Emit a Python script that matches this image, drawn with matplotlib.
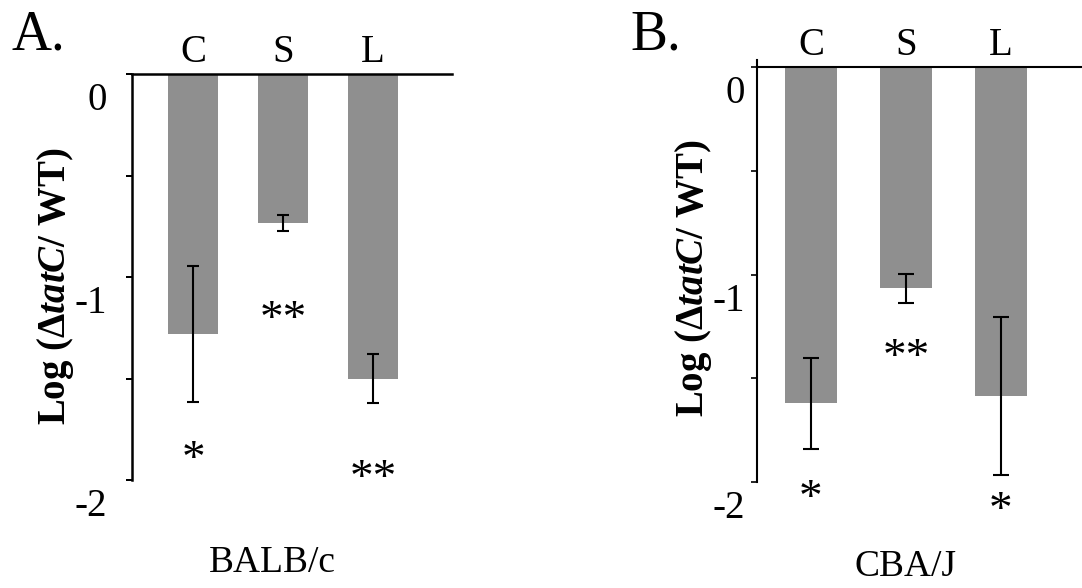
import matplotlib
matplotlib.use('Agg')
import matplotlib.pyplot as plt
from matplotlib.transforms import ScaledTranslation

plt.rcParams['font.family'] = 'Liberation Serif'
plt.rcParams['mathtext.fontset'] = 'custom'
plt.rcParams['mathtext.rm'] = 'Liberation Serif:bold'
plt.rcParams['mathtext.bf'] = 'Liberation Serif:bold'
plt.rcParams['mathtext.it'] = 'Liberation Serif:italic:bold'
plt.rcParams['mathtext.bfit'] = 'Liberation Serif:italic:bold'

groups = ['C', 'S', 'L']
ytick_vals = [0, -0.5, -1, -1.5, -2]
ytick_labels = ['0', '', '-1', '', '-2']

# panel A: BALB/c
balb_mean = [-1.28, -0.735, -1.50]
balb_err = [0.335, 0.04, 0.12]
balb_stars = ['*', '**', '**']
balb_star_y = [-1.85, -1.16, -1.94]

# panel B: CBA/J
cba_mean = [-1.62, -1.065, -1.585]
cba_err = [0.22, 0.07, 0.38]
cba_stars = ['*', '**', '*']
cba_star_y = [-2.03, -1.35, -2.09]

W, H = 1082, 588
fig = plt.figure(figsize=(W / 100, H / 100), dpi=100)


def px_axes(left, right, top, bottom):
    return fig.add_axes([left / W, 1 - bottom / H, (right - left) / W, (bottom - top) / H])


def panel(ax, means, errs, stars, star_y, width, lw, capsize, ylabel_pad, ytop):
    x = range(len(groups))
    ax.bar(x, means, width=width, color='#8f8f8f', zorder=1)
    ax.errorbar(x, means, yerr=errs, fmt='none', ecolor='black', elinewidth=1.5,
                capsize=capsize, capthick=1.5, zorder=3)
    # asterisk glyph sits high in the line box, pull it down a bit
    star_off = ax.transData + ScaledTranslation(0, -0.115, fig.dpi_scale_trans)
    for xi, s, sy in zip(x, stars, star_y):
        ax.text(xi, sy, s, ha='center', va='center', fontsize=34,
                transform=star_off, clip_on=False)
    ax.set_ylim(-2, ytop)
    ax.spines['top'].set_position(('data', 0))
    ax.spines['bottom'].set_visible(False)
    ax.spines['right'].set_visible(False)
    for sp in ['top', 'left']:
        ax.spines[sp].set_linewidth(lw)
    ax.xaxis.tick_top()
    ax.set_xticks(list(x))
    ax.set_xticklabels(groups, fontsize=28)
    ax.tick_params(axis='x', length=0, pad=2)
    ax.set_yticks(ytick_vals)
    ax.set_yticklabels(ytick_labels, fontsize=28)
    ax.tick_params(axis='y', length=4, width=lw * 0.8, pad=ylabel_pad)
    off = ScaledTranslation(0, -0.22, fig.dpi_scale_trans)
    for lab in ax.get_yticklabels():
        lab.set_transform(lab.get_transform() + off)


axA = px_axes(132, 452, 74, 480)
panel(axA, balb_mean, balb_err, balb_stars, balb_star_y, 0.556, 1.8, 4.5, 14, 0)
axA.set_xlim(-0.678, 2.878)

axB = px_axes(757, 1082, 60, 482)
panel(axB, cba_mean, cba_err, cba_stars, cba_star_y, 0.55, 1.5, 6, 5, 0.035)
axB.set_xlim(-0.568, 2.853)

ylab = r'Log (Δ$\mathbfit{tatC}$/ WT)'
fig.text(55 / W, 1 - 286 / H, ylab, rotation=90, ha='center', va='center',
         fontsize=28, fontweight='bold')
fig.text(694 / W, 1 - 278 / H, ylab, rotation=90, ha='center', va='center',
         fontsize=28, fontweight='bold')

fig.text(12 / W, 1 - 49 / H, 'A.', ha='left', va='baseline', fontsize=40)
fig.text(630 / W, 1 - 50 / H, 'B.', ha='left', va='baseline', fontsize=40)

fig.text(272 / W, 1 - 572 / H, 'BALB/c', ha='center', va='baseline', fontsize=27)
fig.text(905 / W, 1 - 576 / H, 'CBA/J', ha='center', va='baseline', fontsize=27)

fig.savefig('out.png', dpi=100)
